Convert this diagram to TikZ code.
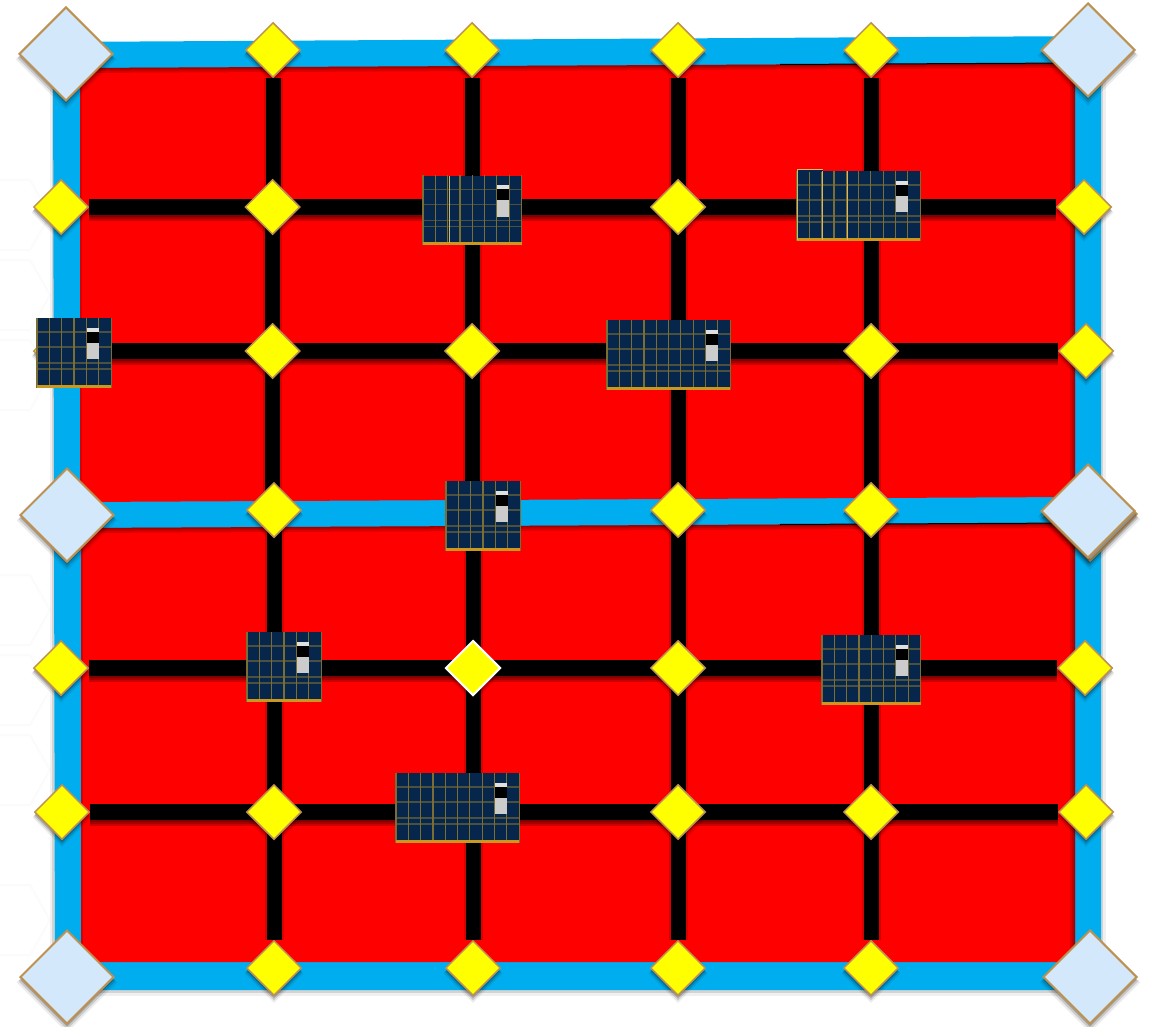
\documentclass[tikz,border=0pt]{standalone}
\usetikzlibrary{shapes.geometric,shadows,backgrounds}
\definecolor{framecyan}{HTML}{00AEEF}
\definecolor{cellred}{HTML}{FF0000}
\definecolor{nodeyellow}{HTML}{FFFF00}
\definecolor{cornerblue}{HTML}{D3E9FB}
\definecolor{edgetan}{HTML}{BD9152}
\definecolor{panelnavy}{HTML}{06264C}
\definecolor{panelgold}{HTML}{C9981E}
\definecolor{panelgrid}{HTML}{7A6E35}
\tikzset{
  softshade/.style={
    drop shadow={shadow xshift=0pt,shadow yshift=-5pt,shadow scale=1.08,opacity=.08,fill=black},
    drop shadow={shadow xshift=0pt,shadow yshift=-4pt,shadow scale=1.04,opacity=.14,fill=black},
    drop shadow={shadow xshift=0pt,shadow yshift=-3pt,opacity=.2,fill=black}},
  junction/.style={diamond,aspect=1,inner sep=0pt,minimum width=55pt,minimum height=55pt,
    draw=edgetan,line width=1.5pt,fill=nodeyellow,softshade},
  cornerbox/.style={junction,minimum width=94pt,minimum height=94pt,fill=cornerblue,line width=2pt},
  activebox/.style={junction,draw=white,line width=2pt},
  wire/.style={black,line width=16pt},
  upright/.style={black,line width=15pt},
  wireshade/.style={black,line width=16pt,opacity=.2},
  uprightshade/.style={black,line width=19pt,opacity=.15},
  edgeshade/.style={black,opacity=.14},
  hexline/.style={black!1.5,line width=2pt},
  solarbox/.style={anchor=north west,inner sep=0pt,minimum height=69.5pt,fill=panelnavy,draw=none},
  panelline/.style={panelgrid,line width=1.2pt},
  panelbright/.style={panelgold!70!white,line width=1pt},
}
% one panel: name, left, top, columns
\newcommand{\solarpanel}[4]{
  \node[solarbox,minimum width=#4*12.3pt] (#1) at (#2,#3) {};
  \foreach \col in {1,...,#4}
    \draw[panelline] ([xshift=\col*12.3pt-12.3pt]#1.north west) -- ([xshift=\col*12.3pt-12.3pt]#1.south west);
  \draw[panelline] (#1.north east) -- (#1.south east);
  \foreach \rw in {14,29,45,51}
    \draw[panelline,opacity=.6] ([yshift=-\rw pt]#1.north west) -- ([yshift=-\rw pt]#1.north east);
  \fill[black!12] ([xshift=-24.4pt,yshift=-10pt]#1.north east) rectangle ([xshift=-12.6pt,yshift=-14pt]#1.north east);
  \fill[black] ([xshift=-24.4pt,yshift=-14pt]#1.north east) rectangle ([xshift=-12.6pt,yshift=-25pt]#1.north east);
  \fill[black!20] ([xshift=-24.4pt,yshift=-25pt]#1.north east) rectangle ([xshift=-12.6pt,yshift=-41pt]#1.north east);
  \fill[panelgold] ([yshift=3pt]#1.south west) rectangle (#1.south east);
}
\begin{document}
\begin{tikzpicture}[x=1pt,y=-1pt]
  \useasboundingbox (0,0) rectangle (1153,1027);
  % junctions, col-row
  \node[cornerbox] (n00) at (66,54) {};
  \node[junction] (n10) at (273,50) {};
  \node[junction] (n20) at (472,50) {};
  \node[junction] (n30) at (678,50) {};
  \node[junction] (n40) at (871,50) {};
  \node[cornerbox] (n50) at (1088,50) {};
  \node[junction] (n01) at (61,207) {};
  \node[junction] (n11) at (272.5,207) {};
  \node[junction] (n21) at (472,207) {};
  \node[junction] (n31) at (678,207) {};
  \node[junction] (n41) at (871,207) {};
  \node[junction] (n51) at (1084,207) {};
  \node[junction] (n02) at (61,351) {};
  \node[junction] (n12) at (272.5,351) {};
  \node[junction] (n22) at (472,351) {};
  \node[junction] (n32) at (678,351) {};
  \node[junction] (n42) at (871,351) {};
  \node[junction] (n52) at (1086,351) {};
  \node[cornerbox] (n03) at (67,515) {};
  \node[junction] (n13) at (274,510) {};
  \node[junction] (n23) at (473,510) {};
  \node[junction] (n33) at (678,510) {};
  \node[junction] (n43) at (871,510) {};
  \node[cornerbox] (n53b) at (1090,514) {};
  \node[cornerbox] (n53) at (1088,511) {};
  \node[junction] (n04) at (61,668) {};
  \node[junction] (n14) at (274,668) {};
  \node[activebox] (n24) at (473,668) {};
  \node[junction] (n34) at (678,668) {};
  \node[junction] (n44) at (871,668) {};
  \node[junction] (n54) at (1085,668) {};
  \node[junction] (n05) at (62,812) {};
  \node[junction] (n15) at (274,812) {};
  \node[junction] (n25) at (473,812) {};
  \node[junction] (n35) at (678,812) {};
  \node[junction] (n45) at (871,812) {};
  \node[junction] (n55) at (1086,812) {};
  \node[cornerbox] (n06) at (67,977) {};
  \node[junction] (n16) at (274,968) {};
  \node[junction] (n26) at (473,968) {};
  \node[junction] (n36) at (678,968) {};
  \node[junction] (n46) at (871,968) {};
  \node[cornerbox] (n56) at (1090,977) {};
  \begin{scope}[on background layer]
    % faint hexagons in the margin
    \foreach \hx/\hy in {10/215,10/295,10/375,10/610,10/690,10/770,10/920}
      \draw[hexline] (\hx+40,\hy) -- (\hx+20,\hy+35) -- (\hx-20,\hy+35) -- (\hx-40,\hy) -- (\hx-20,\hy-35) -- (\hx+20,\hy-35) -- cycle;
    % frame and cells
    \fill[black,opacity=.06] (50,44) rectangle (1106,996);
    \fill[black,opacity=.12] (52,44) rectangle (1103,993);
    \fill[framecyan] (53,42) -- (1101,36) -- (1101,990) -- (55,990) -- cycle;
    \foreach \xa/\ya/\yb/\yc/\yd in {80/68/63/497/502,81/528/523/962/962} {
      \begin{scope}
        \clip (\xa,\ya) -- (1075,\yb) -- (1075,\yc) -- (\xa,\yd) -- cycle;
        \fill[cellred] (\xa,\ya) -- (1075,\yb) -- (1075,\yc) -- (\xa,\yd) -- cycle;
        \foreach \wd in {10,6,3} {
          \draw[edgeshade,line width=\wd pt] (\xa,\ya) -- (1075,\yb);
          \draw[edgeshade,line width=\wd pt] (1075,\yb) -- (1075,\yc);
        }
        \draw[edgeshade,line width=4pt] (\xa,\ya) -- (\xa,\yd);
      \end{scope}
    }
    \draw[black,line width=1pt] (780,64.5) -- (1075,63);
    \draw[black,line width=1pt] (780,524.5) -- (1075,523);
    \foreach \a/\pa/\b/\pb in {0/east/1/center,1/center/2/center,2/center/3/center,3/center/4/center,4/center/5/west}
      \foreach \rw in {1,2,4,5}
        \foreach \sh in {2,4,6}
          \draw[wireshade] ([yshift=-\sh pt]n\a\rw.\pa) -- ([yshift=-\sh pt]n\b\rw.\pb);
    % uprights
    \foreach \cl in {1,2,3,4} {
      \foreach \a/\pa/\b in {0/south/1,1/center/2,2/center/3,3/center/4,4/center/5}
        \draw[uprightshade] (n\cl\a.\pa) -- (n\cl\a.\pa |- n\cl\b.center);
      \draw[uprightshade] (n\cl5.center) -- (n\cl6.north);
      \foreach \a/\pa/\b in {0/south/1,1/center/2,2/center/3,3/center/4,4/center/5}
        \draw[upright] (n\cl\a.\pa) -- (n\cl\a.\pa |- n\cl\b.center);
      \draw[upright] (n\cl5.center) -- (n\cl6.north);
    }
    % rows
    \foreach \a/\pa/\b/\pb in {0/east/1/center,1/center/2/center,2/center/3/center,3/center/4/center,4/center/5/west}
      \foreach \rw in {1,2,4,5}
        \draw[wire] (n\a\rw.\pa) -- (n\b\rw.\pb);
  \end{scope}
  % panels
  \solarpanel{pa}{423}{175.5}{8}
  \solarpanel{pb}{797}{171}{10}
  \solarpanel{pc}{37}{318}{6}
  \solarpanel{pd}{607}{320}{10}
  \solarpanel{pe}{446}{481}{6}
  \solarpanel{pf}{247}{632}{6}
  \solarpanel{pg}{822}{635}{8}
  \solarpanel{ph}{396}{773}{10}
  % overlapped pieces of the two wider panels
  \draw[panelbright] (449,176) -- (449,243);
  \fill[panelgold] (423,242) rectangle (449,245);
  \fill[panelnavy] (797,170) rectangle (823,172);
  \draw[panelbright] (797,170) -- (823,170);
  \draw[panelbright] (797,170) -- (797,240);
  \draw[panelbright] (822,171) -- (822,240);
  \draw[panelbright] (847.5,171) -- (847.5,240);
\end{tikzpicture}
\end{document}
